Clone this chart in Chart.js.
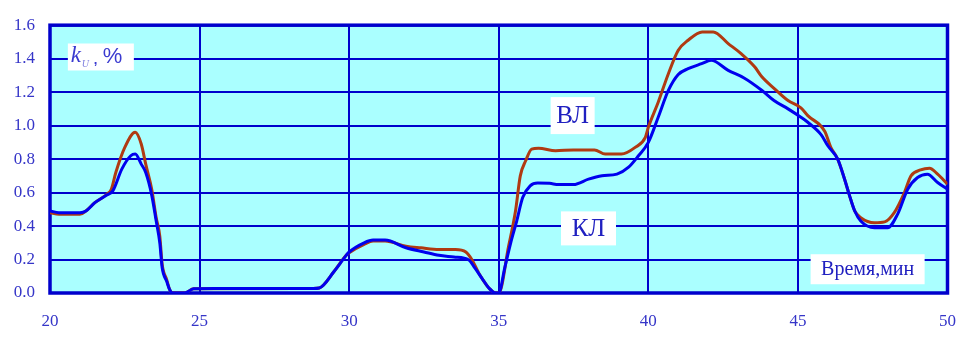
<!DOCTYPE html>
<html>
<head>
<meta charset="utf-8">
<script src="https://cdn.jsdelivr.net/npm/chart.js@4.4.0/dist/chart.umd.min.js"></script>
<style>
  html, body { margin: 0; padding: 0; background: #fff; }
  #wrap { width: 974px; height: 338px; }
</style>
</head>
<body>
<div id="wrap"><canvas id="chart" width="974" height="338"></canvas></div>
<script>
// время, мин и k_U, % для кабельной линии (КЛ)
const klTime = [20.0, 20.3, 21.0, 21.2, 21.5, 21.9, 22.1, 22.4, 22.7, 22.85, 23.05, 23.2, 23.4, 23.55, 23.67, 23.75, 23.9, 24.0, 24.1, 24.5, 24.8, 25.5, 28.8, 29.0, 29.5, 29.9, 30.0, 30.5, 30.8, 31.2, 31.9, 32.5, 33.0, 33.5, 34.0, 34.2, 34.45, 34.67, 34.9, 35.0, 35.2, 35.4, 35.6, 35.8, 36.05, 36.3, 36.7, 37.0, 37.5, 38.0, 38.45, 38.95, 39.33, 39.67, 40.0, 40.33, 40.67, 41.0, 41.33, 41.78, 42.1, 42.67, 43.2, 43.8, 44.2, 44.67, 45.1, 45.33, 45.78, 46.0, 46.33, 46.56, 46.72, 46.9, 47.1, 47.56, 48.0, 48.33, 48.67, 49.0, 49.33, 49.67, 50.0];
const klValues = [0.49, 0.48, 0.48, 0.49, 0.54, 0.585, 0.61, 0.74, 0.82, 0.83, 0.77, 0.72, 0.585, 0.43, 0.30, 0.15, 0.07, 0.02, 0.0, 0.0, 0.025, 0.027, 0.027, 0.03, 0.13, 0.225, 0.245, 0.30, 0.316, 0.316, 0.27, 0.245, 0.225, 0.215, 0.197, 0.15, 0.085, 0.03, 0.0, 0.0, 0.15, 0.30, 0.43, 0.57, 0.64, 0.657, 0.655, 0.648, 0.648, 0.68, 0.70, 0.71, 0.75, 0.82, 0.90, 1.05, 1.21, 1.305, 1.34, 1.37, 1.39, 1.33, 1.285, 1.21, 1.15, 1.10, 1.05, 1.02, 0.945, 0.88, 0.80, 0.68, 0.585, 0.49, 0.43, 0.39, 0.39, 0.47, 0.62, 0.69, 0.71, 0.66, 0.62];

// воздушная линия (ВЛ)
const vlTime = [20.0, 20.3, 21.0, 21.2, 21.5, 21.9, 22.05, 22.2, 22.5, 22.85, 23.05, 23.2, 23.4, 23.55, 23.67, 23.75, 23.9, 24.0, 24.1, 24.5, 24.8, 28.8, 29.0, 29.5, 29.9, 30.0, 30.5, 30.8, 31.2, 31.9, 32.4, 33.0, 33.55, 33.9, 34.1, 34.33, 34.45, 34.67, 34.9, 35.0, 35.33, 35.56, 35.72, 35.9, 36.1, 36.33, 36.9, 37.5, 38.2, 38.56, 39.1, 39.56, 39.9, 40.0, 40.33, 40.67, 41.0, 41.33, 41.8, 42.17, 42.67, 43.1, 43.56, 43.78, 44.22, 44.67, 45.1, 45.33, 45.9, 46.1, 46.33, 46.56, 46.72, 46.9, 47.1, 47.56, 47.9, 48.22, 48.56, 48.78, 49.1, 49.4, 49.67, 50.0];
const vlValues = [0.48, 0.47, 0.47, 0.49, 0.54, 0.59, 0.62, 0.72, 0.87, 0.96, 0.89, 0.77, 0.62, 0.45, 0.34, 0.17, 0.08, 0.02, 0.0, 0.0, 0.025, 0.027, 0.03, 0.13, 0.225, 0.24, 0.29, 0.31, 0.31, 0.28, 0.27, 0.26, 0.26, 0.245, 0.2, 0.12, 0.085, 0.03, 0.0, 0.0, 0.28, 0.49, 0.70, 0.79, 0.86, 0.865, 0.85, 0.855, 0.855, 0.83, 0.83, 0.87, 0.93, 0.99, 1.14, 1.31, 1.45, 1.51, 1.56, 1.56, 1.49, 1.43, 1.35, 1.295, 1.22, 1.15, 1.106, 1.06, 0.965, 0.87, 0.80, 0.68, 0.585, 0.49, 0.45, 0.42, 0.425, 0.48, 0.60, 0.70, 0.735, 0.745, 0.71, 0.65];

const xTicks = [20, 25, 30, 35, 40, 45, 50];
const yTicks = [0, 0.2, 0.4, 0.6, 0.8, 1.0, 1.2, 1.4, 1.6];

const toPoints = (xs, ys) => xs.map((x, i) => ({ x: x, y: ys[i] }));

const BLUE = '#0000ee';
const GRID = '#0000cc';
const LABEL = '#3535c8';

// фон, рамка и подписи
const decor = {
  id: 'decor',
  beforeDraw(chart) {
    const { ctx, chartArea: a } = chart;
    ctx.save();
    ctx.fillStyle = '#aaffff';
    ctx.fillRect(a.left, a.top, a.right - a.left, a.bottom - a.top);
    ctx.restore();
  },
  beforeDatasetsDraw(chart) {
    const { ctx, chartArea: a } = chart;
    ctx.save();
    ctx.strokeStyle = GRID;
    ctx.lineWidth = 3.5;
    ctx.strokeRect(a.left, a.top, a.right - a.left, a.bottom - a.top);
    ctx.restore();
  },
  afterDatasetsDraw(chart) {
    const { ctx, scales } = chart;
    const sx = scales.x, sy = scales.y;
    ctx.save();
    ctx.textBaseline = 'middle';

    function box(cx, cy, w, h) {
      ctx.fillStyle = '#fff';
      ctx.fillRect(cx - w / 2, cy - h / 2, w, h);
    }

    // k_U, %
    let cx = sx.getPixelForValue(21.7), cy = sy.getPixelForValue(1.41);
    box(cx, cy, 66, 27);
    ctx.fillStyle = '#3a3ad0';
    ctx.textAlign = 'left';
    ctx.font = 'italic 23px "Liberation Serif"';
    ctx.fillText('k', cx - 30, cy - 1);
    ctx.font = 'italic 10px "Liberation Serif"';
    ctx.fillStyle = '#8080e0';
    ctx.fillText('U', cx - 19, cy + 7);
    ctx.fillStyle = '#3a3ad0';
    ctx.font = 'bold 13px "Liberation Sans"';
    ctx.fillText(',', cx - 7, cy + 3);
    ctx.font = '22px "Liberation Sans"';
    ctx.fillText('%', cx + 2, cy);

    ctx.textAlign = 'center';
    ctx.font = '25px "Liberation Serif"';
    // ВЛ
    cx = sx.getPixelForValue(37.47); cy = sy.getPixelForValue(1.06);
    box(cx, cy, 44, 37);
    ctx.fillStyle = '#2020c0';
    ctx.fillText('ВЛ', cx, cy + 1);
    // КЛ
    cx = sx.getPixelForValue(38.0); cy = sy.getPixelForValue(0.386);
    box(cx, cy, 55, 34);
    ctx.fillStyle = '#2020c0';
    ctx.fillText('КЛ', cx, cy + 1);
    // Время, мин
    cx = sx.getPixelForValue(47.33); cy = sy.getPixelForValue(0.142);
    box(cx, cy, 114, 30);
    ctx.fillStyle = '#2020c0';
    ctx.font = '20px "Liberation Serif"';
    ctx.fillText('Время,мин', cx, cy + 1);
    ctx.restore();
  }
};

new Chart(document.getElementById('chart'), {
  type: 'line',
  data: {
    datasets: [
      {
        label: 'КЛ',
        data: toPoints(klTime, klValues),
        borderColor: BLUE,
        borderWidth: 3,
        pointRadius: 0,
        cubicInterpolationMode: 'monotone',
        fill: false
      },
      {
        label: 'ВЛ',
        data: toPoints(vlTime, vlValues),
        borderColor: '#b03a12',
        borderWidth: 3,
        pointRadius: 0,
        cubicInterpolationMode: 'monotone',
        fill: false
      }
    ]
  },
  options: {
    responsive: false,
    animation: false,
    layout: { padding: { top: 11, right: 24, left: 0, bottom: 0 } },
    plugins: { legend: { display: false }, tooltip: { enabled: false } },
    scales: {
      x: {
        type: 'linear',
        min: 20, max: 50,
        afterBuildTicks: s => { s.ticks = xTicks.map(v => ({ value: v })); },
        afterFit: s => { s.height = 45; },
        grid: { color: GRID, lineWidth: 2, drawTicks: false },
        border: { display: false },
        ticks: { color: LABEL, padding: 18, maxRotation: 0, font: { family: '"Liberation Serif"', size: 17 } }
      },
      y: {
        min: 0, max: 1.6,
        afterBuildTicks: s => { s.ticks = yTicks.map(v => ({ value: v })); },
        afterFit: s => { s.width = 50; },
        grid: { color: GRID, lineWidth: 2, drawTicks: false },
        border: { display: false },
        ticks: { color: LABEL, padding: 15, callback: v => v.toFixed(1), font: { family: '"Liberation Serif"', size: 17 } }
      }
    }
  },
  plugins: [decor]
});
</script>
</body>
</html>
